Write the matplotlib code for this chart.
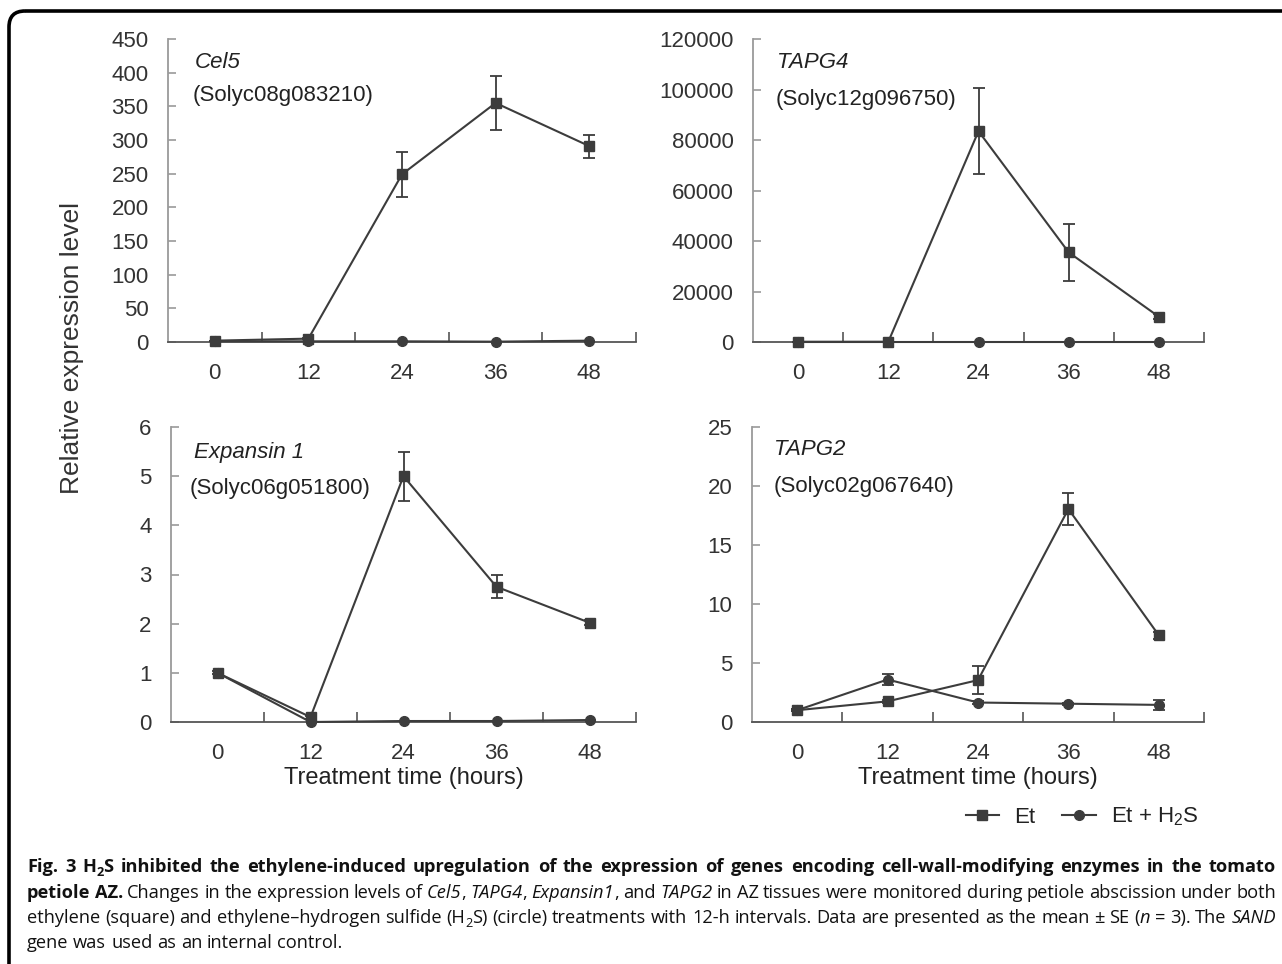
import matplotlib
matplotlib.use("Agg")
import matplotlib.pyplot as plt
from matplotlib.lines import Line2D
from matplotlib.patches import FancyBboxPatch
from matplotlib.ticker import FixedLocator

W, H = 1282, 964
plt.rcParams['font.family'] = ['Liberation Sans', 'DejaVu Sans']
plt.rcParams['mathtext.fontset'] = 'custom'
plt.rcParams['mathtext.rm'] = 'Liberation Sans'
plt.rcParams['mathtext.default'] = 'regular'

# ---- data ----
hours = [0, 12, 24, 36, 48]

gene_names = ["Cel5", "TAPG4", "Expansin 1", "TAPG2"]
gene_ids = ["(Solyc08g083210)", "(Solyc12g096750)", "(Solyc06g051800)", "(Solyc02g067640)"]

cel5_et = [2, 5, 249, 355, 291]
cel5_et_se = [0, 1, 33, 40, 17]
cel5_h2s = [1, 1, 1, 0.5, 2]
cel5_h2s_se = [0, 0, 0, 0, 0]

tapg4_et = [100, 100, 83500, 35500, 10000]
tapg4_et_se = [0, 0, 17000, 11200, 900]
tapg4_h2s = [0, 0, 0, 0, 0]
tapg4_h2s_se = [0, 0, 0, 0, 0]

exp1_et = [1.0, 0.1, 5.0, 2.75, 2.02]
exp1_et_se = [0.03, 0.03, 0.5, 0.23, 0.05]
exp1_h2s = [1.0, 0.0, 0.02, 0.02, 0.04]
exp1_h2s_se = [0, 0, 0, 0, 0]

tapg2_et = [1.0, 1.75, 3.55, 18.05, 7.35]
tapg2_et_se = [0.1, 0.1, 1.2, 1.35, 0.3]
tapg2_h2s = [1.0, 3.6, 1.65, 1.55, 1.45]
tapg2_h2s_se = [0.1, 0.5, 0.1, 0.1, 0.4]

y_ticks = [list(range(0, 451, 50)), list(range(0, 120001, 20000)),
           list(range(0, 7)), list(range(0, 26, 5))]

series_et = [(cel5_et, cel5_et_se), (tapg4_et, tapg4_et_se),
             (exp1_et, exp1_et_se), (tapg2_et, tapg2_et_se)]
series_h2s = [(cel5_h2s, cel5_h2s_se), (tapg4_h2s, tapg4_h2s_se),
              (exp1_h2s, exp1_h2s_se), (tapg2_h2s, tapg2_h2s_se)]

# axes boxes in pixels: left, right, top, bottom
boxes = [(168, 636, 39, 342), (753, 1204, 39, 342),
         (171, 636, 427, 722), (752, 1204, 427, 722)]
label_pos = [((0.058, 0.924), (0.053, 0.812)),
             ((0.053, 0.921), (0.051, 0.799)),
             ((0.049, 0.912), (0.039, 0.790)),
             ((0.049, 0.925), (0.047, 0.797))]

LINE = '#3c3c3c'
fig = plt.figure(figsize=(W / 100, H / 100), dpi=100)

# rounded frame around the whole figure
bg = fig.add_axes([0, 0, 1, 1], zorder=-5)
bg.set_xlim(0, W)
bg.set_ylim(H, 0)
bg.axis('off')
bg.add_patch(FancyBboxPatch((9, 11), 1500, 1200, boxstyle='round,pad=0,rounding_size=16',
                            lw=2.6, ec='black', fc='none'))

for i in range(4):
    l, r, t, b = boxes[i]
    ax = fig.add_axes([l / W, 1 - b / H, (r - l) / W, (b - t) / H])
    ax.set_xlim(-6, 54)
    ax.set_ylim(0, y_ticks[i][-1])
    for s in ['top', 'right']:
        ax.spines[s].set_visible(False)
    ax.spines['left'].set_color('#9a9a9a')
    ax.spines['left'].set_linewidth(1.3)
    ax.spines['bottom'].set_color('#555555')
    ax.spines['bottom'].set_linewidth(1.3)
    ax.set_xticks(hours)
    ax.xaxis.set_minor_locator(FixedLocator([6, 18, 30, 42, 54]))
    ax.tick_params(axis='x', which='major', length=0, pad=15, labelsize=16, labelcolor='#333333')
    ax.tick_params(axis='x', which='minor', direction='in', length=7, width=1.2, color='#555555')
    ax.set_yticks(y_ticks[i])
    ax.tick_params(axis='y', direction='in', length=6, width=1.2, color='#9a9a9a',
                   pad=14, labelsize=16, labelcolor='#333333')

    y, e = series_et[i]
    ax.errorbar(hours, y, yerr=e, color=LINE, lw=1.5, marker='s', ms=7.5,
                capsize=4, elinewidth=1.3, capthick=1.3, clip_on=False, zorder=3)
    y, e = series_h2s[i]
    ax.errorbar(hours, y, yerr=e if any(e) else None, color=LINE, lw=1.5, marker='o', ms=7,
                capsize=4, elinewidth=1.3, capthick=1.3, clip_on=False, zorder=4)

    (nx, ny), (ix, iy) = label_pos[i]
    ax.text(nx, ny, gene_names[i], transform=ax.transAxes, fontsize=16, fontstyle='italic',
            color='#222222', va='center')
    ax.text(ix, iy, gene_ids[i], transform=ax.transAxes, fontsize=16,
            color='#222222', va='center')
    if i >= 2:
        ax.set_xlabel('Treatment time (hours)', fontsize=17, color='#222222', labelpad=2)

fig.text(72 / W, 1 - 348 / H, 'Relative expression level', rotation=90, fontsize=19,
         color='#333333', ha='center', va='center')

handles = [Line2D([], [], color=LINE, lw=1.5, marker='s', ms=7.5),
           Line2D([], [], color=LINE, lw=1.5, marker='o', ms=7)]
fig.legend(handles, ['Et', 'Et + H$_2$S'], loc='center right', ncol=2, frameon=False,
           bbox_to_anchor=(1199 / W, 1 - 817 / H), fontsize=16, handlelength=1.5,
           handletextpad=0.7, columnspacing=1.2, borderpad=0, borderaxespad=0,
           labelcolor='#222222')

# ---- caption, drawn word by word so lines can be justified ----
CAP_FONT = 'Open Sans'
CAP_LEFT, CAP_RIGHT = 27, 1276
STYLES = {
    'b': dict(weight='bold', style='normal', scale=1.0, dy=0),
    'r': dict(weight='normal', style='normal', scale=1.0, dy=0),
    'i': dict(weight='normal', style='italic', scale=1.0, dy=0),
    'bs': dict(weight='bold', style='normal', scale=0.7, dy=4),
    'rs': dict(weight='normal', style='normal', scale=0.7, dy=4),
}
caption_lines = [
    ([("Fig. 3 H", 'b'), ("2", 'bs'),
      ("S inhibited the ethylene-induced upregulation of the expression of genes encoding "
       "cell-wall-modifying enzymes in the tomato", 'b')], 872, True),
    ([("petiole AZ.", 'b'), (" Changes in the expression levels of ", 'r'), ("Cel5", 'i'),
      (", ", 'r'), ("TAPG4", 'i'), (", ", 'r'), ("Expansin1", 'i'), (", and ", 'r'),
      ("TAPG2", 'i'), (" in AZ tissues were monitored during petiole abscission under both", 'r')],
     898, True),
    ([("ethylene (square) and ethylene\u2013hydrogen sulfide (H", 'r'), ("2", 'rs'),
      ("S) (circle) treatments with 12-h intervals. Data are presented as the mean \u00b1 SE (", 'r'),
      ("n", 'i'), (" = 3). The ", 'r'), ("SAND", 'i')], 923, True),
    ([("gene was used as an internal control.", 'r')], 948, False),
]

renderer = fig.canvas.get_renderer()


def make_text(s, st, fs):
    return fig.text(0, 0, s, fontsize=fs * st['scale'], fontweight=st['weight'],
                    fontstyle=st['style'], family=[CAP_FONT, 'DejaVu Sans'],
                    color='#111111', va='baseline', ha='left')


def width_of(s, st, fs):
    t = make_text(s, st, fs)
    w = t.get_window_extent(renderer).width
    t.remove()
    return w


def split_words(pieces):
    words = [[]]
    for s, key in pieces:
        parts = s.split(" ")
        for k, part in enumerate(parts):
            if k > 0:
                words.append([])
            if part:
                words[-1].append((part, key))
    return [w for w in words if w]


# pick the largest caption size at which every justified line fits with normal spaces
BASE = 13
space13 = width_of("a a", STYLES['r'], BASE) - width_of("aa", STYLES['r'], BASE)
CAP_FS = 14
for pieces, y_px, justify in caption_lines:
    if not justify:
        continue
    words = split_words(pieces)
    natural = sum(width_of(s, STYLES[k], BASE) for w in words for s, k in w)
    natural += space13 * (len(words) - 1)
    CAP_FS = min(CAP_FS, BASE * (CAP_RIGHT - CAP_LEFT) / natural)

space_w = width_of("a a", STYLES['r'], CAP_FS) - width_of("aa", STYLES['r'], CAP_FS)

for pieces, y_px, justify in caption_lines:
    placed = []
    for w in split_words(pieces):
        segs = []
        for s, key in w:
            st = STYLES[key]
            t = make_text(s, st, CAP_FS)
            segs.append((t, t.get_window_extent(renderer).width, st))
        placed.append(segs)
    total = sum(sum(seg[1] for seg in segs) for segs in placed)
    gap = (CAP_RIGHT - CAP_LEFT - total) / (len(placed) - 1) if justify else space_w
    x = CAP_LEFT
    for segs in placed:
        for t, wpx, st in segs:
            t.set_position((x / W, 1 - (y_px + st['dy']) / H))
            x += wpx
        x += gap

fig.savefig('out.png', dpi=100)
